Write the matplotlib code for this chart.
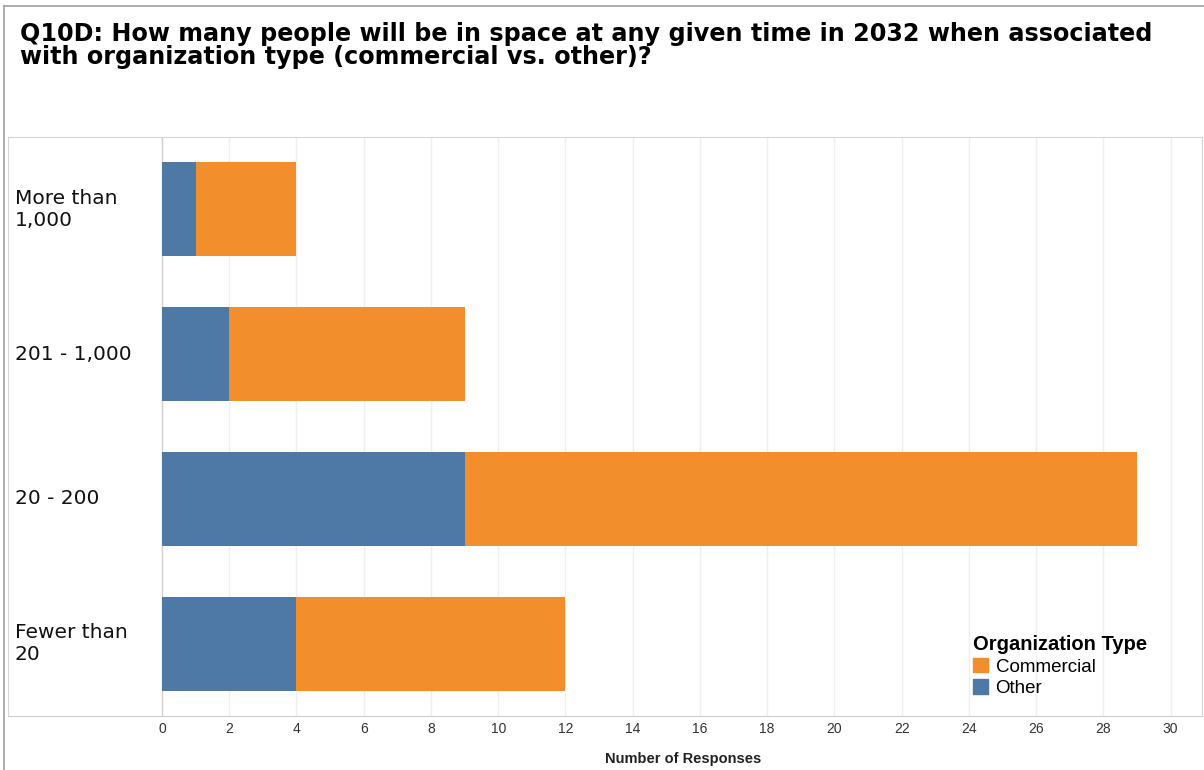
import matplotlib
matplotlib.use("Agg")
import matplotlib.pyplot as plt
from matplotlib.patches import Patch
import matplotlib.transforms as mtransforms

plt.rcParams['font.family'] = ['Liberation Sans', 'DejaVu Sans']

# data
categories = ['More than\n1,000', '201 - 1,000', '20 - 200', 'Fewer than\n20']
other = [1, 2, 9, 4]
commercial = [3, 7, 20, 8]
ticks = list(range(0, 31, 2))

blue = '#4E79A7'
orange = '#F28E2B'

W, H = 1204, 770
fig = plt.figure(figsize=(W / 100, H / 100), dpi=100)

# outer border (left / top)
fig.add_artist(plt.Line2D([4 / W, 4 / W], [0, 1 - 6 / H], color='#a0a0a0', lw=1.2))
fig.add_artist(plt.Line2D([4 / W, 1], [1 - 6 / H, 1 - 6 / H], color='#a0a0a0', lw=1.2))

fig.text(20 / W, 1 - 22 / H,
         'Q10D: How many people will be in space at any given time in 2032 when associated\n'
         'with organization type (commercial vs. other)?',
         fontsize=17.2, fontweight='bold', va='top', ha='left', linespacing=0.95,
         family='DejaVu Sans')

ax = fig.add_axes([8 / W, 54 / H, (1202 - 8) / W, (716 - 137) / H])
px = 33.62
ax.set_xlim(-(162 - 8) / px, (1202 - 162) / px)
ax.set_ylim(3.5, -0.5)

y = range(len(categories))
ax.barh(y, other, height=0.65, color=blue, label='Other', zorder=3)
ax.barh(y, commercial, left=other, height=0.65, color=orange, label='Commercial', zorder=3)

for t in ticks[1:]:
    ax.axvline(t, color='#efefef', lw=1, zorder=1)
ax.axvline(0, color='#d0d0d0', lw=1, zorder=2)

ax.set_xticks(ticks)
ax.set_xticklabels([str(t) for t in ticks], fontsize=10, color='#333333')
ax.tick_params(axis='x', length=0, pad=4)
ax.set_yticks([])
for s in ['top', 'right', 'left']:
    ax.spines[s].set_color('#d6d6d6')
ax.spines['bottom'].set_color('#cccccc')

trans = mtransforms.blended_transform_factory(ax.transAxes, ax.transData)
for i, c in enumerate(categories):
    ax.text(7 / 1194, i, c, transform=trans, fontsize=14.5, va='center', ha='left',
            linespacing=1.25, color='#111111', family='DejaVu Sans')

fig.text(683 / W, 1 - 759 / H, 'Number of Responses', fontsize=10.5, fontweight='bold',
         ha='center', va='center', color='#222222')

handles = [Patch(color=orange, label='Commercial'), Patch(color=blue, label='Other')]
leg = ax.legend(handles=handles, title='Organization Type', loc='upper left',
                bbox_to_anchor=(960 / W, 1 - 622 / H), bbox_transform=fig.transFigure,
                frameon=False, fontsize=13.5, title_fontproperties={'size': 14.5, 'weight': 'bold'},
                alignment='left', handlelength=0.8, handleheight=0.8, handletextpad=0.4,
                labelspacing=0.2, borderpad=0.2)

fig.savefig('out.png', dpi=100)
